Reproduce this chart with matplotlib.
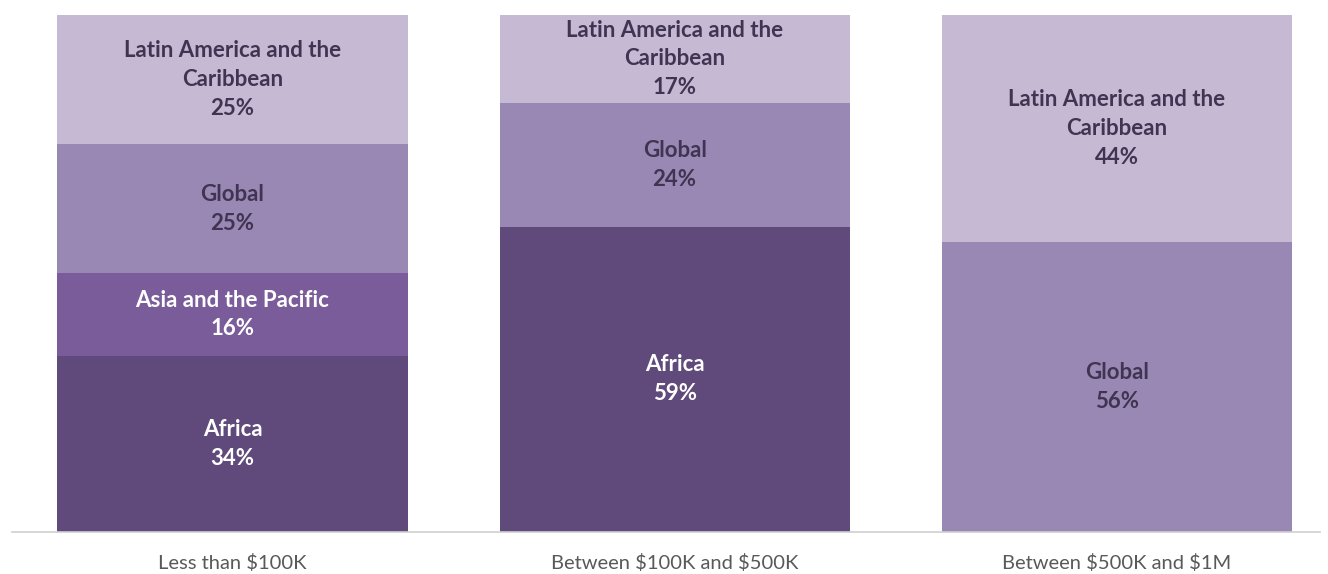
import matplotlib
matplotlib.use("Agg")
import matplotlib.pyplot as plt

# Funding size brackets and regional shares (%)
brackets = ["Less than \\$100K", "Between \\$100K and \\$500K", "Between \\$500K and \\$1M"]
regions = ["Africa", "Asia and the Pacific", "Global", "Latin America and the Caribbean"]
africa = [34, 59, 0]
asia_pacific = [16, 0, 0]
global_share = [25, 24, 56]
latin_america = [25, 17, 44]

segment_labels = {
    "Africa": "Africa",
    "Asia and the Pacific": "Asia and the Pacific",
    "Global": "Global",
    "Latin America and the Caribbean": "Latin America and the\nCaribbean",
}
colors = {
    "Africa": "#604A7C",
    "Asia and the Pacific": "#7A5C9B",
    "Global": "#9A88B4",
    "Latin America and the Caribbean": "#C5B9D3",
}
text_colors = {
    "Africa": "white",
    "Asia and the Pacific": "white",
    "Global": "#3F3452",
    "Latin America and the Caribbean": "#3F3452",
}

series = [africa, asia_pacific, global_share, latin_america]

fig = plt.figure(figsize=(13.28, 5.74), dpi=100)
ax = fig.add_axes([0.0, 1 - 531.5 / 574, 1.0, (531.5 - 15) / 574])

x = [0, 1, 2]
bottoms = [0, 0, 0]
for name, vals in zip(regions, series):
    ax.bar(x, vals, bottom=bottoms, width=0.792, color=colors[name], linewidth=0)
    for i, v in enumerate(vals):
        if v > 0:
            ax.text(x[i], bottoms[i] + v / 2, f"{segment_labels[name]}\n{v}%",
                    ha="center", va="center", fontsize=16, fontweight="bold",
                    family=["Lato", "DejaVu Sans"], color=text_colors[name],
                    linespacing=1.45)
    bottoms = [b + v for b, v in zip(bottoms, vals)]

ax.set_ylim(0, 100)
ax.set_xlim(-0.526, 2.478)
for s in ["top", "right", "left"]:
    ax.spines[s].set_visible(False)
ax.spines["bottom"].set_color("#D0D0D0")
ax.spines["bottom"].set_linewidth(1.2)
ax.spines["bottom"].set_bounds(-0.499, 2.46)
ax.set_yticks([])
ax.set_xticks(x)
ax.set_xticklabels(brackets, fontsize=14.5, color="#595959", family=["Lato", "DejaVu Sans"])
ax.tick_params(axis="x", length=0, pad=16)

fig.savefig("out.png", dpi=100, facecolor="white")
